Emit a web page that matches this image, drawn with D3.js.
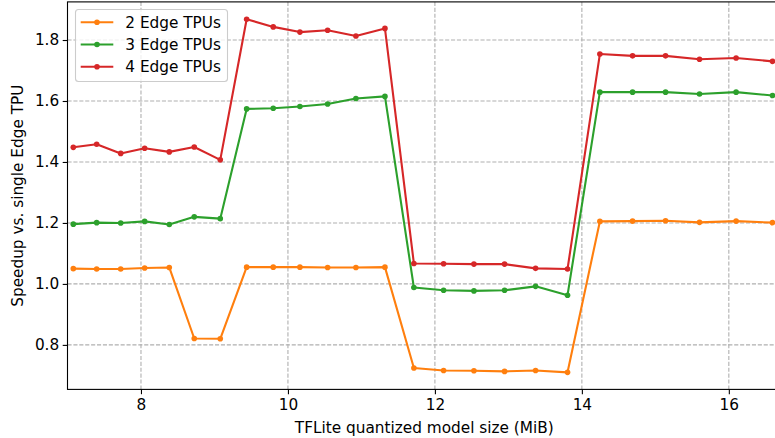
<!DOCTYPE html>
<html>
<head>
<meta charset="UTF-8">
<style>
    body { margin: 0; background: #fff; }
    svg { display: block; font-family: "DejaVu Sans", sans-serif; }
    .grid line { stroke: #b0b0b0; stroke-width: 1.1; stroke-dasharray: 4.1, 1.8; }
    .tick-label { font-size: 15.3px; fill: #000; }
</style>
<script src="https://d3js.org/d3.v7.min.js"></script>
</head>
<body>
<svg id="chart" width="775" height="438"></svg>
<script>
    // model sizes (MiB)
    var sizes = [7.079, 7.397, 7.724, 8.050, 8.385, 8.725, 9.079, 9.438, 9.800, 10.163,
        10.540, 10.925, 11.320, 11.714, 12.118, 12.531, 12.948, 13.370, 13.805, 14.245,
        14.690, 15.139, 15.601, 16.099, 16.594];

    var speedup2 = [1.050, 1.049, 1.049, 1.052, 1.054, 0.821, 0.820, 1.055, 1.055, 1.055,
        1.054, 1.054, 1.055, 0.724, 0.716, 0.715, 0.713, 0.716, 0.710, 1.205,
        1.206, 1.207, 1.202, 1.206, 1.201];
    var speedup3 = [1.196, 1.201, 1.200, 1.205, 1.195, 1.220, 1.214, 1.574, 1.576, 1.582,
        1.590, 1.608, 1.615, 0.988, 0.979, 0.977, 0.979, 0.992, 0.963, 1.629,
        1.629, 1.629, 1.623, 1.629, 1.618];
    var speedup4 = [1.448, 1.458, 1.428, 1.445, 1.433, 1.449, 1.407, 1.868, 1.843, 1.826,
        1.832, 1.813, 1.838, 1.067, 1.066, 1.065, 1.065, 1.051, 1.049, 1.754,
        1.748, 1.748, 1.737, 1.741, 1.730];

    var seriesNames = ["2 Edge TPUs", "3 Edge TPUs", "4 Edge TPUs"];
    var seriesColors = ["#ff7f0e", "#2ca02c", "#d62728"];
    var xTicks = [8, 10, 12, 14, 16];
    var yTicks = [0.8, 1.0, 1.2, 1.4, 1.6, 1.8];

    var svg = d3.select("#chart");
    var plotLeft = 67.5, plotRight = 781, plotTop = 1.9, plotBottom = 389.4;

    var x = d3.scaleLinear().domain([7.0, 16.71]).range([plotLeft, plotRight]);
    var y = d3.scaleLinear().domain([0.654, 1.925]).range([plotBottom, plotTop]);

    // grid
    var grid = svg.append("g").attr("class", "grid");
    grid.selectAll(".gx").data(xTicks).enter().append("line")
        .attr("x1", function(d) { return x(d); }).attr("x2", function(d) { return x(d); })
        .attr("y1", plotTop).attr("y2", plotBottom);
    grid.selectAll(".gy").data(yTicks).enter().append("line")
        .attr("x1", plotLeft).attr("x2", plotRight)
        .attr("y1", function(d) { return y(d); }).attr("y2", function(d) { return y(d); });

    // axes
    var xAxis = svg.append("g")
        .attr("transform", "translate(0," + plotBottom + ")")
        .call(d3.axisBottom(x).tickValues(xTicks).tickFormat(d3.format("d")).tickSizeInner(4.8).tickSizeOuter(0).tickPadding(4.5));
    var yAxis = svg.append("g")
        .attr("transform", "translate(" + plotLeft + ",0)")
        .call(d3.axisLeft(y).tickValues(yTicks).tickFormat(d3.format(".1f")).tickSizeInner(4.8).tickSizeOuter(0).tickPadding(3.5));
    [xAxis, yAxis].forEach(function(a) {
        a.selectAll(".domain").remove();
        a.selectAll("line").attr("stroke", "#000").attr("stroke-width", 1.1);
        a.selectAll("text").attr("class", "tick-label").attr("font-family", "DejaVu Sans");
    });

    // spines
    svg.append("rect")
        .attr("x", plotLeft).attr("y", plotTop)
        .attr("width", plotRight - plotLeft).attr("height", plotBottom - plotTop)
        .attr("fill", "none").attr("stroke", "#000").attr("stroke-width", 1.1);

    // series
    var allSeries = [speedup2, speedup3, speedup4];
    var line = d3.line()
        .x(function(d, i) { return x(sizes[i]); })
        .y(function(d) { return y(d); });

    allSeries.forEach(function(vals, k) {
        svg.append("path")
            .datum(vals)
            .attr("d", line)
            .attr("fill", "none")
            .attr("stroke", seriesColors[k])
            .attr("stroke-width", 2.1)
            .attr("stroke-linejoin", "round");
        svg.selectAll(".pt" + k)
            .data(vals)
            .enter().append("circle")
            .attr("class", "pt" + k)
            .attr("cx", function(d, i) { return x(sizes[i]); })
            .attr("cy", function(d) { return y(d); })
            .attr("r", 2.8)
            .attr("fill", seriesColors[k]);
    });

    // axis labels
    svg.append("text")
        .attr("x", (plotLeft + plotRight) / 2).attr("y", 433.3)
        .attr("text-anchor", "middle")
        .attr("font-size", "15.3px")
        .text("TFLite quantized model size (MiB)");
    svg.append("text")
        .attr("transform", "translate(23," + ((plotTop + plotBottom) / 2) + ") rotate(-90)")
        .attr("text-anchor", "middle")
        .attr("font-size", "15.3px")
        .text("Speedup vs. single Edge TPU");

    // legend
    var legend = svg.append("g");
    legend.append("rect")
        .attr("x", 75.5).attr("y", 9.5)
        .attr("width", 152).attr("height", 72)
        .attr("rx", 3)
        .attr("fill", "#fff").attr("fill-opacity", 0.8)
        .attr("stroke", "#cccccc").attr("stroke-width", 1.1);
    seriesNames.forEach(function(name, k) {
        var ly = 22.3 + k * 22.2;
        legend.append("line")
            .attr("x1", 80.7).attr("x2", 113.3)
            .attr("y1", ly).attr("y2", ly)
            .attr("stroke", seriesColors[k]).attr("stroke-width", 2.1);
        legend.append("circle")
            .attr("cx", 97).attr("cy", ly).attr("r", 2.8)
            .attr("fill", seriesColors[k]);
        legend.append("text")
            .attr("x", 125.3).attr("y", ly + 5.6)
            .attr("font-size", "15.3px")
            .text(name);
    });
</script>
</body>
</html>
